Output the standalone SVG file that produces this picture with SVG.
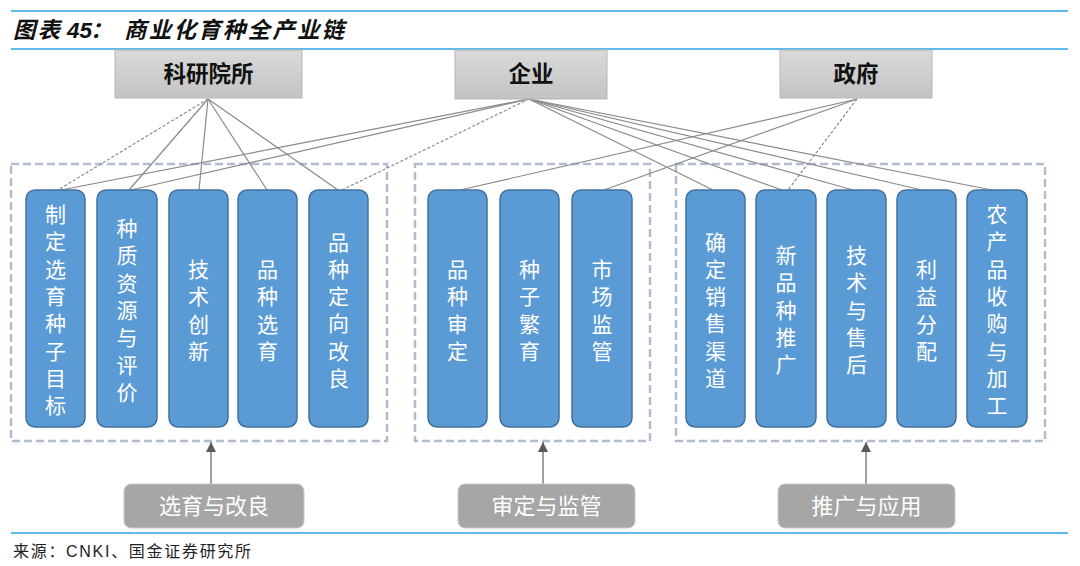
<svg xmlns="http://www.w3.org/2000/svg" width="1080" height="566" viewBox="0 0 1080 566">
<defs>
<linearGradient id="gTop" x1="0" y1="0" x2="0" y2="1">
<stop offset="0" stop-color="#dadada"/>
<stop offset="1" stop-color="#c3c3c3"/>
</linearGradient>
<marker id="arr" viewBox="0 0 10 10" refX="10" refY="5" markerWidth="10" markerHeight="10" markerUnits="userSpaceOnUse" orient="auto">
<path d="M0,0 L10,5 L0,10 Z" fill="#595959"/>
</marker>
<style>
.rule{stroke:#2aa5e6;stroke-width:1.5;fill:none}
.title{font-family:"Noto Sans CJK SC","Noto Sans",sans-serif;font-size:22.5px;font-weight:700;font-style:italic;fill:#111}
.src{font-family:"Liberation Sans","Noto Sans CJK SC",sans-serif;font-size:16px;fill:#222;letter-spacing:1.7px}
.top rect{fill:url(#gTop);stroke:#b5b5b5;stroke-width:1}
.top text{font-family:"Noto Sans CJK SC",sans-serif;font-size:22.5px;font-weight:700;fill:#111;text-anchor:middle}
.grp{fill:none;stroke:#b1bccf;stroke-width:2.5;stroke-dasharray:8 4}
.node rect{fill:#5b9bd5;stroke:#41719c;stroke-width:1.5}
.node text{font-family:"Noto Sans CJK SC",sans-serif;font-size:21px;fill:#fff;text-anchor:middle}
.bot rect{fill:#a6a6a6;stroke:#c8c8c8;stroke-width:1}
.bot text{font-family:"Noto Sans CJK SC",sans-serif;font-size:22px;fill:#fff;text-anchor:middle}
.c{stroke:#8a8a8a;stroke-width:1.2;fill:none}
.d{stroke:#8a8a8a;stroke-width:1.2;fill:none;stroke-dasharray:3 2}
.a{stroke:#808080;stroke-width:1.5;fill:none}
</style>
</defs>
<rect width="1080" height="566" fill="#fff"/>
<line class="rule" x1="11" y1="11" x2="1068" y2="11"/>
<line class="rule" x1="11" y1="49" x2="1068" y2="49"/>
<line class="rule" x1="11" y1="533" x2="1068" y2="533"/>
<text class="title" y="38"><tspan x="13" letter-spacing="2">图表</tspan><tspan x="67" font-family="Liberation Sans,sans-serif">45</tspan><tspan x="90">：</tspan><tspan x="124" letter-spacing="2.2">商业化育种全产业链</tspan></text>
<text class="src" x="13" y="557">来源：CNKI、国金证券研究所</text>

<g id="group-1"><rect class="grp" x="11" y="164" width="376" height="277"/></g>
<g id="group-2"><rect class="grp" x="415" y="164" width="235" height="277"/></g>
<g id="group-3"><rect class="grp" x="676" y="164" width="369" height="277"/></g>

<g id="connectors">
<line class="d" x1="208" y1="99" x2="58" y2="190"/>
<line class="c" x1="208" y1="99" x2="129" y2="190"/>
<line class="c" x1="208" y1="99" x2="199" y2="190"/>
<line class="c" x1="208" y1="99" x2="267" y2="190"/>
<line class="c" x1="208" y1="99" x2="338" y2="190"/>
<line class="c" x1="529" y1="99" x2="61" y2="190"/>
<line class="c" x1="529" y1="99" x2="131" y2="190"/>
<line class="d" x1="529" y1="99" x2="342" y2="190"/>
<line class="c" x1="529" y1="99" x2="713" y2="190"/>
<line class="c" x1="529" y1="99" x2="782" y2="190"/>
<line class="c" x1="529" y1="99" x2="853" y2="190"/>
<line class="c" x1="529" y1="99" x2="922" y2="190"/>
<line class="c" x1="529" y1="99" x2="992" y2="190"/>
<line class="c" x1="857" y1="99" x2="460" y2="190"/>
<line class="c" x1="857" y1="99" x2="604" y2="190"/>
<line class="d" x1="857" y1="99" x2="788" y2="190"/>
<line class="a" x1="211" y1="484" x2="211" y2="442" marker-end="url(#arr)"/>
<line class="a" x1="543" y1="484" x2="543" y2="442" marker-end="url(#arr)"/>
<line class="a" x1="866" y1="484" x2="866" y2="442" marker-end="url(#arr)"/>
</g>

<g id="kyys" class="top"><rect x="115" y="50" width="187" height="48"/><text x="208.5" y="82">科研院所</text></g>
<g id="qiye" class="top"><rect x="455" y="50" width="152" height="49"/><text x="531" y="82">企业</text></g>
<g id="zhengfu" class="top"><rect x="780" y="50" width="152" height="48"/><text x="856" y="82">政府</text></g>

<g id="n1" class="node"><rect x="26" y="190" width="59" height="237" rx="9"/><text y="222"><tspan x="55.5">制</tspan><tspan x="55.5" dy="27.3">定</tspan><tspan x="55.5" dy="27.3">选</tspan><tspan x="55.5" dy="27.3">育</tspan><tspan x="55.5" dy="27.3">种</tspan><tspan x="55.5" dy="27.3">子</tspan><tspan x="55.5" dy="27.3">目</tspan><tspan x="55.5" dy="27.3">标</tspan></text></g>
<g id="n2" class="node"><rect x="97" y="190" width="60" height="237" rx="9"/><text y="236"><tspan x="127">种</tspan><tspan x="127" dy="27.3">质</tspan><tspan x="127" dy="27.3">资</tspan><tspan x="127" dy="27.3">源</tspan><tspan x="127" dy="27.3">与</tspan><tspan x="127" dy="27.3">评</tspan><tspan x="127" dy="27.3">价</tspan></text></g>
<g id="n3" class="node"><rect x="169" y="190" width="59" height="237" rx="9"/><text y="277"><tspan x="198.5">技</tspan><tspan x="198.5" dy="27.3">术</tspan><tspan x="198.5" dy="27.3">创</tspan><tspan x="198.5" dy="27.3">新</tspan></text></g>
<g id="n4" class="node"><rect x="238" y="190" width="59" height="237" rx="9"/><text y="277"><tspan x="267.5">品</tspan><tspan x="267.5" dy="27.3">种</tspan><tspan x="267.5" dy="27.3">选</tspan><tspan x="267.5" dy="27.3">育</tspan></text></g>
<g id="n5" class="node"><rect x="309" y="190" width="59" height="237" rx="9"/><text y="249.5"><tspan x="338.5">品</tspan><tspan x="338.5" dy="27.3">种</tspan><tspan x="338.5" dy="27.3">定</tspan><tspan x="338.5" dy="27.3">向</tspan><tspan x="338.5" dy="27.3">改</tspan><tspan x="338.5" dy="27.3">良</tspan></text></g>

<g id="n6" class="node"><rect x="428" y="190" width="59" height="237" rx="9"/><text y="277"><tspan x="457.5">品</tspan><tspan x="457.5" dy="27.3">种</tspan><tspan x="457.5" dy="27.3">审</tspan><tspan x="457.5" dy="27.3">定</tspan></text></g>
<g id="n7" class="node"><rect x="500" y="190" width="59" height="237" rx="9"/><text y="277"><tspan x="529.5">种</tspan><tspan x="529.5" dy="27.3">子</tspan><tspan x="529.5" dy="27.3">繁</tspan><tspan x="529.5" dy="27.3">育</tspan></text></g>
<g id="n8" class="node"><rect x="572" y="190" width="60" height="237" rx="9"/><text y="277"><tspan x="602">市</tspan><tspan x="602" dy="27.3">场</tspan><tspan x="602" dy="27.3">监</tspan><tspan x="602" dy="27.3">管</tspan></text></g>

<g id="n9" class="node"><rect x="686" y="190" width="59" height="237" rx="9"/><text y="249.5"><tspan x="715.5">确</tspan><tspan x="715.5" dy="27.3">定</tspan><tspan x="715.5" dy="27.3">销</tspan><tspan x="715.5" dy="27.3">售</tspan><tspan x="715.5" dy="27.3">渠</tspan><tspan x="715.5" dy="27.3">道</tspan></text></g>
<g id="n10" class="node"><rect x="756" y="190" width="60" height="237" rx="9"/><text y="263"><tspan x="786">新</tspan><tspan x="786" dy="27.3">品</tspan><tspan x="786" dy="27.3">种</tspan><tspan x="786" dy="27.3">推</tspan><tspan x="786" dy="27.3">广</tspan></text></g>
<g id="n11" class="node"><rect x="827" y="190" width="59" height="237" rx="9"/><text y="263"><tspan x="856.5">技</tspan><tspan x="856.5" dy="27.3">术</tspan><tspan x="856.5" dy="27.3">与</tspan><tspan x="856.5" dy="27.3">售</tspan><tspan x="856.5" dy="27.3">后</tspan></text></g>
<g id="n12" class="node"><rect x="897" y="190" width="59" height="237" rx="9"/><text y="277"><tspan x="926.5">利</tspan><tspan x="926.5" dy="27.3">益</tspan><tspan x="926.5" dy="27.3">分</tspan><tspan x="926.5" dy="27.3">配</tspan></text></g>
<g id="n13" class="node"><rect x="967" y="190" width="60" height="237" rx="9"/><text y="222"><tspan x="997">农</tspan><tspan x="997" dy="27.3">产</tspan><tspan x="997" dy="27.3">品</tspan><tspan x="997" dy="27.3">收</tspan><tspan x="997" dy="27.3">购</tspan><tspan x="997" dy="27.3">与</tspan><tspan x="997" dy="27.3">加</tspan><tspan x="997" dy="27.3">工</tspan></text></g>

<g id="b1" class="bot"><rect x="124" y="484" width="180" height="44" rx="7"/><text x="214" y="514">选育与改良</text></g>
<g id="b2" class="bot"><rect x="458" y="484" width="177" height="44" rx="7"/><text x="546.5" y="514">审定与监管</text></g>
<g id="b3" class="bot"><rect x="778" y="484" width="177" height="44" rx="7"/><text x="866.5" y="514">推广与应用</text></g>
</svg>
